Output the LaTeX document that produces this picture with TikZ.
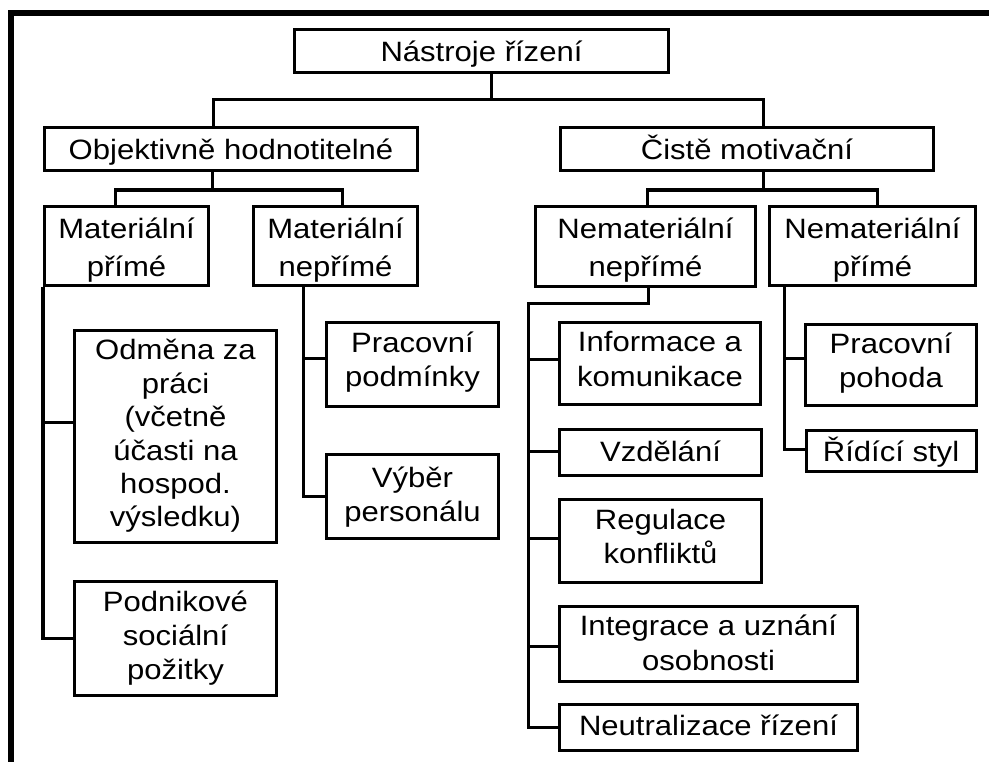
\documentclass[tikz,border=0pt]{standalone}
\usepackage{fontspec}
\setmainfont[FakeStretch=1.11]{Liberation Sans}
\begin{document}
\begin{tikzpicture}[x=0.025cm,y=-0.025cm,
  box/.style={draw, line width=0.075cm, inner sep=0pt, align=center,
    font=\fontsize{19.9}{23.8}\selectfont, text depth=0pt},
  wh/.style 2 args={minimum width={#1*0.025cm}, minimum height={#2*0.025cm}},
  % height above the last baseline (places the text block) and line spacing
  th/.style={text height=#1},
  ls/.style={font=\fontsize{19.9}{#1}\selectfont},
  conn/.style={line width=0.075cm, line join=miter},
  outerframe/.style={line width=0.15cm, line join=miter}]
\useasboundingbox (0,0) rectangle (989,762);

% frame along the top and left edges
\draw[outerframe] (11,762) -- (11,13) -- (989,13);

% boxes
\node[box, wh={374}{43}, th=15.6pt] (root) at (481.5,51) {Nástroje řízení};
\node[box, wh={373}{43}, th=15.6pt] (obj)  at (231,149)  {Objektivně hodnotitelné};
\node[box, wh={373}{43}, th=15.6pt] (cist) at (747,149)  {Čistě motivační};

\node[box, wh={164}{79}, ls=27pt, th=42.7pt] (mp) at (126.5,246) {Materiální\\přímé};
\node[box, wh={164}{79}, ls=27pt, th=42.7pt] (mn) at (335.5,246) {Materiální\\nepřímé};
\node[box, wh={220}{80}, ls=27pt, th=42.0pt] (nn) at (645.5,246.5) {Nemateriální\\nepřímé};
\node[box, wh={206}{79}, ls=27pt, th=42.7pt] (np) at (872.5,246) {Nemateriální\\přímé};

\node[box, wh={202}{212}, ls=23.8pt, th=128.7pt] (odm) at (175.5,436.5) {Odměna za\\práci\\(včetně\\účasti na\\hospod.\\výsledku)};
\node[box, wh={202}{114}, ls=24.2pt, th=59.0pt] (pod) at (175.5,638.5) {Podnikové\\sociální\\požitky};

\node[box, wh={172}{84}, ls=24.2pt, th=32.0pt] (prac) at (412.5,364.5) {Pracovní\\podmínky};
\node[box, wh={172}{84}, ls=24.2pt, th=34.9pt] (vyb)  at (412.5,496.5) {Výběr\\personálu};

\node[box, wh={201}{82}, ls=24.9pt, th=33.0pt] (inf) at (660,363.5)   {Informace a\\komunikace};
\node[box, wh={202}{46}, th=12.1pt]             (vzd) at (660.5,452.5) {Vzdělání};
\node[box, wh={202}{83}, ls=23.5pt, th=31.3pt] (reg) at (660.5,541)   {Regulace\\konfliktů};
\node[box, wh={298}{75}, ls=24.9pt, th=37.0pt] (int) at (708.5,644)   {Integrace a uznání\\osobnosti};
\node[box, wh={298}{46}, th=10.7pt]             (neu) at (708.5,727.5) {Neutralizace řízení};

\node[box, wh={171}{81}, ls=24.2pt, th=32.7pt] (pph) at (891,365) {Pracovní\\pohoda};
\node[box, wh={170}{41}, th=15.6pt]            (rid) at (891,451) {Řídící styl};

% level 1
\coordinate (b0) at (491,100);
\coordinate (bl) at (213,100);
\coordinate (br) at (763,100);
\draw[conn] (root.south -| b0) -- (b0);
\draw[conn] (obj.north -| bl) -- (bl) -- (br) -- (cist.north -| br);

% level 2, left
\coordinate (c0) at (212,190);
\coordinate (cl) at (115,190);
\coordinate (cr) at (342,190);
\draw[conn] (obj.south -| c0) -- (c0);
\draw[conn] (mp.north -| cl) -- (cl) -- (cr) -- (mn.north -| cr);

% level 2, right
\coordinate (d0) at (763,190);
\coordinate (dl) at (647,190);
\coordinate (dr) at (877,190);
\draw[conn] (cist.south -| d0) -- (d0);
\draw[conn] (nn.north -| dl) -- (dl) -- (dr) -- (np.north -| dr);

% Materiální přímé
\coordinate (e1) at (44.5,422);
\draw[conn] (mp.south west) |- (pod.west);
\draw[conn] (e1) -- (odm.west |- e1);

% Materiální nepřímé
\coordinate (f1) at (303,358);
\draw[conn] (mn.south -| f1) |- (vyb.west);
\draw[conn] (f1) -- (prac.west |- f1);

% Nemateriální nepřímé
\coordinate (g0) at (648,303);
\coordinate (g1) at (528,303);
\draw[conn] (nn.south -| g0) -- (g0) -- (g1) |- (neu.west);
\draw[conn] (g1 |- 0,359) -- (inf.west |- 0,359);
\draw[conn] (g1 |- 0,451) -- (vzd.west |- 0,451);
\draw[conn] (g1 |- 0,538) -- (reg.west |- 0,538);
\draw[conn] (g1 |- 0,646) -- (int.west |- 0,646);

% Nemateriální přímé
\coordinate (h1) at (784,358);
\coordinate (h2) at (784,449);
\draw[conn] (np.south -| h1) -- (h2) -- (rid.west |- h2);
\draw[conn] (h1) -- (pph.west |- h1);
\end{tikzpicture}
\end{document}
